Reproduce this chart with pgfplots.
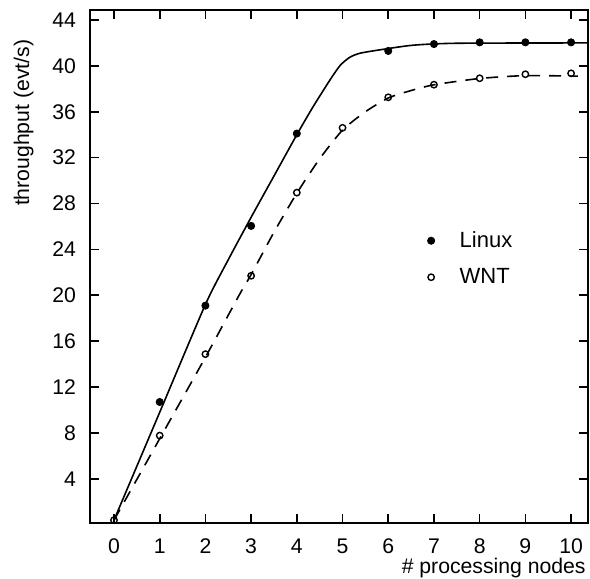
\documentclass[border=0pt]{standalone}
\usepackage{pgfplots}
\pgfplotsset{compat=1.18}
\usepackage{fontspec}
\setmainfont{Liberation Sans}

\begin{document}
\begin{tikzpicture}
\begin{axis}[
    scale only axis,
    width=249bp, height=256.5bp,
    xmin=-0.525, xmax=10.37,
    ymin=0.15, ymax=44.87,
    xtick={0,1,2,3,4,5,6,7,8,9,10},
    ytick={4,8,12,16,20,24,28,32,36,40,44},
    tick align=inside,
    major tick length=4.5bp,
    axis line style={line width=1bp},
    tick style={line width=0.8bp, black},
    font=\fontsize{10.6bp}{12bp}\selectfont,
    /pgf/number format/assume math mode=true,
    yticklabel style={xshift=-3.5bp},
    xticklabel style={yshift=-4.2bp},
    xlabel={\# processing nodes},
    ylabel={throughput (evt/s)},
    xlabel style={at={(axis description cs:0.996,0)}, anchor=north east, yshift=-17.6bp, inner sep=0pt},
    ylabel style={at={(axis description cs:-0.133,0.78)}, anchor=center, inner sep=0pt},
    legend style={draw=none, fill=none, at={(axis description cs:0.665,0.585)}, anchor=north west,
        font=\fontsize{11bp}{13bp}\selectfont, row sep=5bp, column sep=10.5bp},
    legend cell align=left,
    ]

% fitted curves
\addplot[black, line width=0.8bp, smooth, tension=0.4, forget plot] coordinates {
    (0,0.4) (1,9.8) (2,19.2) (2.5,23.1) (3,26.8) (3.5,30.4) (4,34.0)
    (4.35,36.4) (4.73,38.8) (4.95,40.05) (5.16,40.75) (5.38,41.1)
    (5.82,41.4) (6.54,41.8) (7.5,41.97) (10.37,42.0)};
\addplot[black, line width=0.8bp, dash pattern=on 6bp off 4.5bp, smooth, tension=0.4, forget plot] coordinates {
    (0,0.4) (1,7.5) (2,14.6) (2.75,20.1) (3,21.8) (3.5,25.5) (4,28.9)
    (4.5,31.9) (5,34.4) (5.5,36.0) (6,37.2) (6.5,37.85) (7,38.35)
    (8,38.9) (9,39.15) (10.15,39.1)};

% measured points
\addplot[only marks, mark=*, mark size=1.8bp, black] coordinates {
    (1,10.7) (2,19.1) (3,26.05) (4,34.1) (6,41.3) (7,41.9) (8,42.05) (9,42.05) (10,42.05)};
\addlegendentry{Linux}
\addplot[only marks, mark=o, mark size=1.6bp, black, mark options={line width=0.7bp, fill=white}] coordinates {
    (0,0.4) (1,7.77) (2,14.87) (3,21.7) (4,28.95) (5,34.6) (6,37.26) (7,38.36) (8,38.92) (9,39.27) (10,39.35)};
\addlegendentry{WNT}
\end{axis}
\path (current axis.south west) ++(-45bp,-26.5bp) coordinate (bl);
\path (current axis.north east) ++(1bp,5bp) coordinate (tr);
\useasboundingbox (bl) rectangle (tr);
\end{tikzpicture}
\end{document}
